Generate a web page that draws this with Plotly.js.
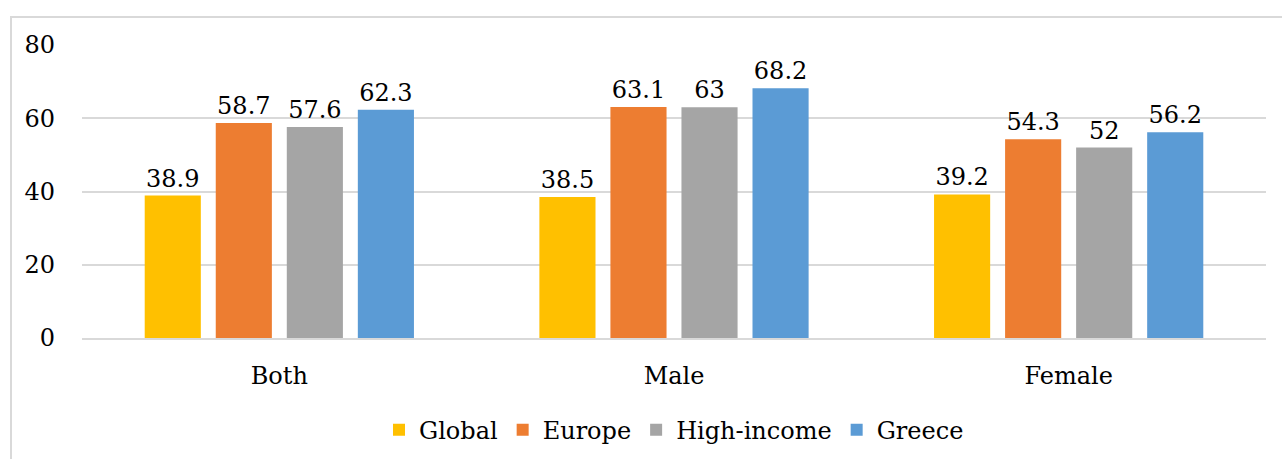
<!DOCTYPE html>
<html>
<head>
<meta charset="utf-8">
<script src="https://cdn.plot.ly/plotly-3.0.1.min.js"></script>
<style>
  html, body { margin: 0; padding: 0; background: #fff; overflow: hidden; }
  #frame { position: absolute; left: 10px; top: 16px; width: 1300px; height: 480px;
           border: 2px solid #d9d9d9; box-sizing: border-box; }
  #chart { position: absolute; left: 0; top: 0; width: 1282px; height: 459px; }
</style>
</head>
<body>
<div id="frame"></div>
<div id="chart"></div>
<script>
// Groups along the x axis
const categories = ["Both", "Male", "Female"];

// Values per series
const seriesNames = ["Global", "Europe", "High-income", "Greece"];
const globalVals = [38.9, 38.5, 39.2];
const europeVals = [58.7, 63.1, 54.3];
const highIncomeVals = [57.6, 63, 52];
const greeceVals = [62.3, 68.2, 56.2];

const yTicks = [0, 20, 40, 60, 80];

const colors = ["#FFC000", "#ED7D31", "#A5A5A5", "#5B9BD5"];
const serif = "DejaVu Serif";
const fontSize = 24;

const allVals = [globalVals, europeVals, highIncomeVals, greeceVals];
const traces = allVals.map((vals, i) => ({
  type: "bar",
  name: seriesNames[i],
  x: categories,
  y: vals,
  text: vals.map(v => String(v)),
  textposition: "outside",
  cliponaxis: false,
  textfont: { family: serif, size: fontSize, color: "#000" },
  marker: { color: colors[i] },
  hoverinfo: "x+y+name"
}));

const layout = {
  width: 1282,
  height: 459,
  margin: { l: 82, r: 16, t: 45, b: 121, autoexpand: false },
  paper_bgcolor: "rgba(0,0,0,0)",
  plot_bgcolor: "rgba(0,0,0,0)",
  font: { family: serif, size: fontSize, color: "#000" },
  barmode: "group",
  bargap: 0.28,
  bargroupgap: 0.21,
  showlegend: true,
  legend: {
    orientation: "h",
    x: 0.5, xanchor: "center",
    yref: "container",
    y: 0.063, yanchor: "middle",
    font: { family: serif, size: fontSize, color: "#000" },
    traceorder: "normal"
  },
  xaxis: {
    type: "category",
    tickfont: { family: serif, size: fontSize, color: "#000" },
    showgrid: false,
    showline: true,
    linecolor: "#d9d9d9",
    linewidth: 2,
    ticks: "",
    ticklabelstandoff: 15,
    zeroline: false
  },
  yaxis: {
    range: [0, 80],
    tickvals: yTicks,
    ticktext: yTicks.map(String),
    tickfont: { family: serif, size: fontSize, color: "#000" },
    showgrid: true,
    gridcolor: "#d9d9d9",
    gridwidth: 2,
    zeroline: false,
    showline: false,
    ticks: "",
    ticklabelstandoff: 26
  }
};

Plotly.newPlot("chart", traces, layout, { displayModeBar: false, staticPlot: true });
</script>
</body>
</html>
